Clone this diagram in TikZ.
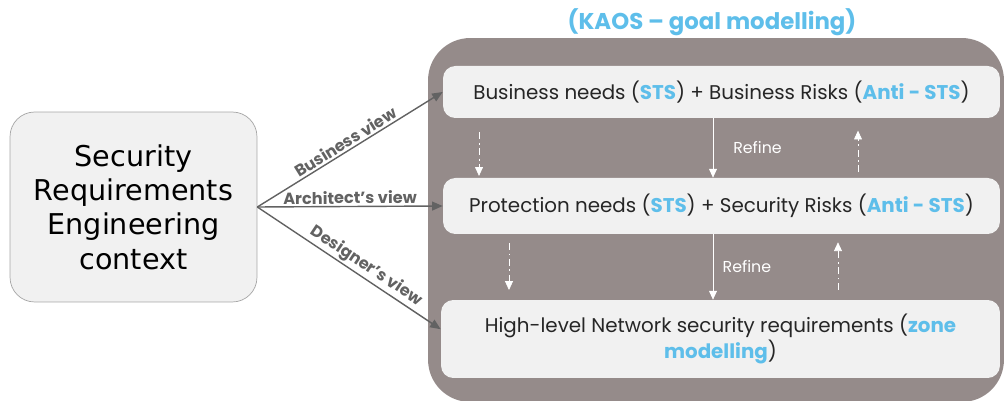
\documentclass[tikz,border=0pt]{standalone}
\usepackage{fontspec}
\setmainfont{Poppins}
\newfontfamily\ctxfont{DejaVu Sans}
\usetikzlibrary{arrows.meta}
\definecolor{kaosgrey}{RGB}{149,139,138}
\definecolor{kaosblue}{RGB}{94,190,234}
\definecolor{layerfill}{RGB}{241,241,241}
\definecolor{viewgrey}{RGB}{98,98,98}
\newcommand{\sts}[1]{\textcolor{kaosblue}{\bfseries #1}}

\tikzset{
	layer/.style={fill=layerfill, rounded corners=7pt, minimum width=11.14cm, align=center, text=black!85, font=\fontsize{11.3}{14.5}\selectfont},
	refine/.style={white, -{Triangle[length=5pt,width=4.5pt]}},
	backlink/.style={white, dash pattern=on 4pt off 2pt on 1pt off 2pt, -{Triangle[length=5pt,width=4.5pt]}},
	viewarrow/.style={viewgrey, thick, -{Triangle[length=6pt,width=5pt]}},
	viewlabel/.style={sloped, above, inner sep=1pt, text=viewgrey, font=\bfseries\fontsize{9.2}{10}\selectfont}
}

\begin{document}
\begin{tikzpicture}[x=0.02cm, y=-0.02cm]
	\useasboundingbox (0,0) rectangle (1005,401);
	% KAOS frame
	\node (kaos) [fill=kaosgrey, rounded corners=24pt, minimum width=11.52cm, minimum height=7.28cm] at (716,220) {};
	\node (title) at (712,22) {\textcolor{kaosblue}{\bfseries\fontsize{13}{15}\selectfont (KAOS -- goal modelling)}};
	% context
	\node (ctx) [fill=layerfill, draw=black!35, rounded corners=14pt, minimum width=4.94cm, minimum height=3.8cm, align=center, font=\ctxfont\fontsize{16.3}{19.6}\selectfont] at (133.5,207)
		{Security\\Requirements\\Engineering\\context};
	% layers
	\node (business) [layer, minimum height=1.04cm] at (721.5,92) {Business needs (\sts{STS}) + Business Risks (\sts{Anti - STS})};
	\node (protection) [layer, minimum height=1.12cm] at (721.5,206) {Protection needs (\sts{STS}) + Security Risks (\sts{Anti - STS})};
	\node (network) [layer, minimum height=1.56cm, minimum width=11.18cm] at (720.5,339) {High-level Network security requirements (\sts{zone}\\\sts{modelling})};
	% views
	\draw[viewarrow] (ctx.east) -- node[viewlabel, pos=0.5]{Business view} (business.west);
	\draw[viewarrow] (ctx.east) -- node[viewlabel]{Architect's view} (protection.west);
	\draw[viewarrow] (ctx.east) -- node[viewlabel, pos=0.56]{Designer's view} (network.178);
	% refine
	\coordinate (r1) at (713,0);
	\coordinate (d1) at (479,0);
	\coordinate (u1) at (858,0);
	\coordinate (d2) at (509,0);
	\coordinate (u2) at (838,0);
	\draw[refine] (business.south -| r1) -- node[right=8pt, text=white, font=\fontsize{9}{10}\selectfont]{Refine} (protection.north -| r1);
	\draw[refine] (protection.south -| r1) -- node[right=2pt, text=white, font=\fontsize{9}{10}\selectfont]{Refine} (network.north -| r1);
	\draw[backlink, shorten <=8pt, shorten >=1pt] (business.south -| d1) -- (protection.north -| d1);
	\draw[backlink, shorten <=3pt, shorten >=7pt] (protection.north -| u1) -- (business.south -| u1);
	\draw[backlink, shorten <=5pt, shorten >=5.5pt] (protection.south -| d2) -- (network.north -| d2);
	\draw[backlink, shorten <=5.5pt, shorten >=4.5pt] (network.north -| u2) -- (protection.south -| u2);
\end{tikzpicture}
\end{document}
